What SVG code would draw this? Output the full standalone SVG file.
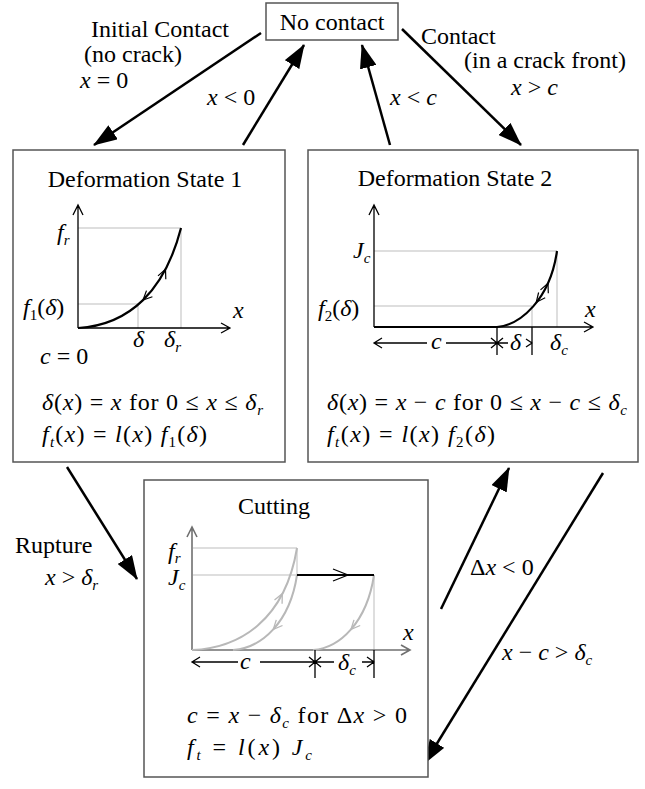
<svg xmlns="http://www.w3.org/2000/svg" width="645" height="789" viewBox="0 0 645 789" font-family="'Liberation Serif', 'DejaVu Serif', serif">
<defs>
<style>
.box{fill:#fff;stroke:#555;stroke-width:1.5}
.t{font-family:'Liberation Serif','DejaVu Serif',serif;font-size:24px;fill:#000}
.i{font-style:italic}
.s{font-size:15px}
.conn{stroke:#000;stroke-width:2.5;fill:none;marker-end:url(#ah)}
.ax{stroke:#000;stroke-width:1.3;fill:none}
.gax{stroke:#707070;stroke-width:1.6;fill:none}
.grid{stroke:#bdbdbd;stroke-width:1;fill:none}
.crv{stroke:#000;stroke-width:2.2;fill:none}
.gcrv{stroke:#b8b8b8;stroke-width:2;fill:none}
.chev{stroke:#000;stroke-width:1.2;fill:none}
.gchev{stroke:#b8b8b8;stroke-width:1.3;fill:none}
</style>
<marker id="ah" viewBox="0 0 24 17" refX="23" refY="8.5" markerWidth="24" markerHeight="17" markerUnits="userSpaceOnUse" orient="auto">
<path d="M0,0 L24,8.5 L0,17 z" fill="#000"/>
</marker>
</defs>
<rect width="645" height="789" fill="#fff"/>

<g id="connectors">
<path class="conn" d="M261,33 L94,145"/>
<path class="conn" d="M243,145 L304,45"/>
<path class="conn" d="M390,145 L362,45"/>
<path class="conn" d="M402,29 L521,145"/>
<path class="conn" d="M67,467 L137,579"/>
<path class="conn" d="M441,609 L509,468"/>
<path class="conn" d="M603,473 L425,763"/>
<text class="t" x="91" y="37">Initial Contact</text>
<text class="t" x="84" y="62">(no crack)</text>
<text class="t" x="80" y="88"><tspan class="i">x</tspan> = 0</text>
<text class="t" x="207" y="105"><tspan class="i">x</tspan> &lt; 0</text>
<text class="t" x="390" y="105"><tspan class="i">x</tspan> &lt; <tspan class="i">c</tspan></text>
<text class="t" x="421" y="44">Contact</text>
<text class="t" x="464" y="68">(in a crack front)</text>
<text class="t" x="511" y="95"><tspan class="i">x</tspan> &gt; <tspan class="i">c</tspan></text>
<text class="t" x="15" y="553">Rupture</text>
<text class="t" x="45" y="585"><tspan class="i">x</tspan> &gt; <tspan class="i">δ</tspan><tspan class="i s" dy="5">r</tspan></text>
<text class="t" x="470" y="575">Δ<tspan class="i">x</tspan> &lt; 0</text>
<text class="t" x="502" y="660"><tspan class="i">x</tspan> − <tspan class="i">c</tspan> &gt; <tspan class="i">δ</tspan><tspan class="i s" dy="5">c</tspan></text>
</g>

<g id="no-contact">
<rect class="box" x="266" y="3" width="132" height="37"/>
<text class="t" x="332" y="30" text-anchor="middle">No contact</text>
</g>

<g id="state1">
<rect class="box" x="13" y="150" width="272" height="312"/>
<text class="t" x="145" y="187" text-anchor="middle">Deformation State 1</text>
<path class="grid" d="M78,228 H181 V328 M78,304 H138 V328"/>
<path class="ax" d="M78,328 V205 M73,215 L78,205 L83,215 M78,328 H230 M221,323 L230,328 L221,333"/>
<path class="crv" d="M78,328 C130,325 165,290 181,228"/>
<path class="chev" d="M158,275.9 L165.5,269.3 L165.8,279.3 M152.4,296.7 L143,300 L146.5,290.6"/>
<text class="t" x="57" y="240"><tspan class="i">f</tspan><tspan class="i s" dy="5">r</tspan></text>
<text class="t" x="23" y="315"><tspan class="i">f</tspan><tspan class="s" dy="5">1</tspan><tspan dy="-5">(</tspan><tspan class="i">δ</tspan>)</text>
<text class="t i" x="233" y="318">x</text>
<text class="t i" x="133" y="347">δ</text>
<text class="t" x="164" y="347"><tspan class="i">δ</tspan><tspan class="i s" dy="5">r</tspan></text>
<text class="t" x="40" y="364"><tspan class="i">c</tspan> = 0</text>
<text class="t" x="42" y="410" textLength="221" lengthAdjust="spacing"><tspan class="i">δ</tspan>(<tspan class="i">x</tspan>) = <tspan class="i">x</tspan>  for 0 ≤ <tspan class="i">x</tspan> ≤ <tspan class="i">δ</tspan><tspan class="i s" dy="5">r</tspan></text>
<text class="t" x="42" y="442" textLength="165" lengthAdjust="spacing"><tspan class="i">f</tspan><tspan class="i s" dy="5">t</tspan><tspan dy="-5">(</tspan><tspan class="i">x</tspan>) = <tspan class="i">l</tspan>(<tspan class="i">x</tspan>) <tspan class="i">f</tspan><tspan class="s" dy="5">1</tspan><tspan dy="-5">(</tspan><tspan class="i">δ</tspan>)</text>
</g>

<g id="state2">
<rect class="box" x="308" y="150" width="330" height="312"/>
<text class="t" x="455" y="186" text-anchor="middle">Deformation State 2</text>
<path class="grid" d="M374,251 H557 V327 M374,306 H532 V327"/>
<path class="ax" d="M374,327 V205 M369,215 L374,205 L379,215 M374,327 H593 M584,322 L593,327 L584,332"/>
<path class="crv" d="M374,327 H497 M497,327 C520,325 550,300 557,251"/>
<path class="chev" d="M540.5,289.9 L548,283.3 L548.3,293.3 M545.2,297.7 L536.3,302.2 L538.6,292.5"/>
<path class="ax" d="M497,327 V355 M532,327 V355 M374,343 H427 M446,343 H508 M382,338 L374,343 L382,348 M491,338 L497,343 L491,348 M503,338 L497,343 L503,348 M526,339 L532,343 L526,347"/>
<text class="t" x="353" y="258"><tspan class="i">J</tspan><tspan class="i s" dy="5">c</tspan></text>
<text class="t" x="318" y="316"><tspan class="i">f</tspan><tspan class="s" dy="5">2</tspan><tspan dy="-5">(</tspan><tspan class="i">δ</tspan>)</text>
<text class="t i" x="585" y="317">x</text>
<text class="t i" x="431" y="349">c</text>
<text class="t i" x="510" y="350">δ</text>
<text class="t" x="550" y="350"><tspan class="i">δ</tspan><tspan class="i s" dy="5">c</tspan></text>
<text class="t" x="327" y="410" textLength="300" lengthAdjust="spacing"><tspan class="i">δ</tspan>(<tspan class="i">x</tspan>) = <tspan class="i">x</tspan> − <tspan class="i">c</tspan>  for 0 ≤ <tspan class="i">x</tspan> − <tspan class="i">c</tspan> ≤ <tspan class="i">δ</tspan><tspan class="i s" dy="5">c</tspan></text>
<text class="t" x="327" y="442" textLength="168" lengthAdjust="spacing"><tspan class="i">f</tspan><tspan class="i s" dy="5">t</tspan><tspan dy="-5">(</tspan><tspan class="i">x</tspan>) = <tspan class="i">l</tspan>(<tspan class="i">x</tspan>) <tspan class="i">f</tspan><tspan class="s" dy="5">2</tspan><tspan dy="-5">(</tspan><tspan class="i">δ</tspan>)</text>
</g>

<g id="cutting">
<rect class="box" x="144" y="480" width="284" height="297"/>
<text class="t" x="274" y="514" text-anchor="middle">Cutting</text>
<path class="grid" d="M193,548 H297 M193,575 H297 M297,548 V575 M374,575 V650"/>
<path class="gax" d="M192,650 V527 M187,537 L192,527 L197,537 M192,650 H410 M401,645 L410,650 L401,655"/>
<path class="gcrv" d="M192,650 C240,648 285,620 297,548 M233,650 C262,648 290,622 297,575 M313,650 C340,648 367,622 374,575"/>
<path class="gchev" d="M274.5,600 L282.3,593.7 L282.1,603.7 M282.5,625.5 L273.3,629.4 L276.3,619.9 M360.2,625.5 L351,629.4 L354,619.9"/>
<path class="crv" d="M297,575 H374"/>
<path class="chev" d="M333,569 L348,575 L333,581"/>
<path class="ax" d="M315,650 V678 M374,650 V678 M192,662 H238 M260,662 H334 M362,662 H374 M200,657 L192,662 L200,667 M309,657 L315,662 L309,667 M321,657 L315,662 L321,667 M367,657 L374,662 L367,667"/>
<text class="t" x="168" y="559"><tspan class="i">f</tspan><tspan class="i s" dy="4">r</tspan></text>
<text class="t" x="168" y="585"><tspan class="i">J</tspan><tspan class="i s" dy="5">c</tspan></text>
<text class="t i" x="403" y="640">x</text>
<text class="t i" x="240" y="669">c</text>
<text class="t" x="338" y="670"><tspan class="i">δ</tspan><tspan class="i s" dy="5">c</tspan></text>
<text class="t" x="187" y="723" textLength="220" lengthAdjust="spacing"><tspan class="i">c</tspan> = <tspan class="i">x</tspan> − <tspan class="i">δ</tspan><tspan class="i s" dy="5">c</tspan><tspan dy="-5">  for  Δ</tspan><tspan class="i">x</tspan> &gt; 0</text>
<text class="t" x="187" y="755" textLength="125" lengthAdjust="spacing"><tspan class="i">f</tspan><tspan class="i s" dy="5">t</tspan><tspan dy="-5"> = </tspan><tspan class="i">l</tspan>(<tspan class="i">x</tspan>) <tspan class="i">J</tspan><tspan class="i s" dy="5">c</tspan></text>
</g>
</svg>
